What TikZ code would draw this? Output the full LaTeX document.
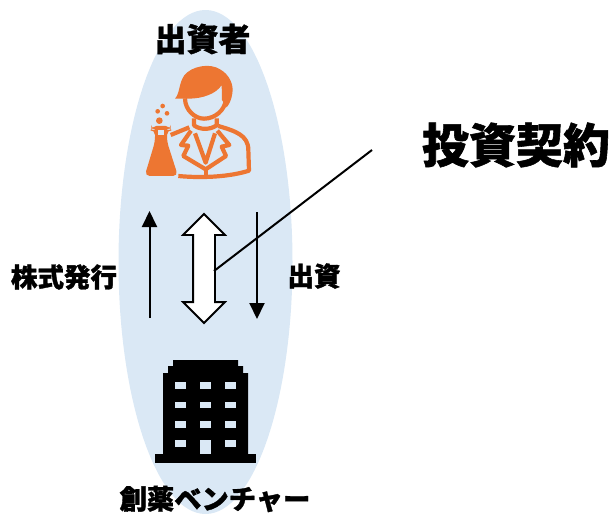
\documentclass[tikz,border=0pt]{standalone}
\usepackage{fontspec}
\setmainfont{Noto Sans CJK JP}[BoldFeatures={FakeBold=1.2}]
\usetikzlibrary{arrows.meta,shapes.geometric,shapes.arrows}
\definecolor{ovalblue}{HTML}{DAE8F5}
\definecolor{iconorange}{HTML}{ED7632}
\tikzset{
  oval/.style={ellipse,fill=ovalblue,inner sep=0pt,minimum width=174pt,minimum height=504pt},
  caption/.style={font=\bfseries\fontsize{#1}{#1}\selectfont,inner sep=0pt},
  flow/.style={-{Triangle[width=15pt,length=16pt]},line width=2pt},
  iconline/.style={draw=iconorange,line width=4.2pt,line join=round},
  window/.style={fill=ovalblue}
}

\begin{document}
\begin{tikzpicture}[x=1pt,y=-1pt]
  \useasboundingbox (0,0) rectangle (611,514);

  \node[oval] (oval) at (205.5,262) {};

  \node[caption=32] (investor) at (202.5,39) {出資者};
  \node[caption=47] (contract) at (516,145) {投資契約};
  \node[caption=26.5] (issue) at (64,277) {株式発行};
  \node[caption=26.5] (funding) at (314,276) {出資};
  \node[caption=27.3] (venture) at (215,499) {創薬ベンチャー};

  % scientist and flask
  \begin{scope}[shift={(120,50)},x=1/3*1pt,y=-1/3*1pt]
    \fill[iconorange] (165,146) .. controls (180,130) and (176,100) .. (193,76)
      .. controls (215,48) and (270,38) .. (300,58)
      .. controls (328,73) and (342,105) .. (337,130)
      .. controls (335,145) and (330,160) .. (320,172) -- (306,150) -- (305,105)
      .. controls (290,130) and (250,146) .. (205,146) -- cycle;
    \draw[iconline] (195,145) .. controls (195,180) and (225,206) .. (252,206)
      .. controls (285,206) and (315,180) .. (317,150);
    \draw[iconline] (222,205) -- (222,226) .. controls (240,240) and (270,240) .. (290,226) -- (290,205);
    \draw[iconline] (152,255) -- (208,232);
    \draw[iconline] (295,228) .. controls (345,243) and (385,255) .. (385,300) -- (387,362)
      .. controls (330,380) and (250,385) .. (175,378);
    \draw[iconline] (213,242) -- (183,285) -- (205,287) -- (190,318) -- (257,358)
      -- (318,318) -- (305,290) -- (328,285) -- (292,242);
    \draw[iconline] (225,250) -- (257,338) -- (285,250);
    \draw[iconline] (257,358) -- (257,380);
    \fill[iconorange,rounded corners=5pt] (94,228) -- (152,228) -- (152,240) -- (141,240) -- (141,275)
      -- (174,378) -- (74,378) -- (105,275) -- (105,240) -- (94,240) -- cycle;
    \fill[ovalblue] (114,240) rectangle (132,256);
    \fill[iconorange] (128,168) circle[radius=7] (113,184) circle[radius=7]
      (141,190) circle[radius=7] (118,212) circle[radius=10];
  \end{scope}

  % arrows in the middle
  \coordinate (issuefoot) at (149.5,318);
  \coordinate (issuetip) at (149.5,211);
  \coordinate (fundfoot) at (257,212);
  \coordinate (fundtip) at (257,319);
  \node[double arrow,draw,fill=white,line width=1.8pt,rotate=90,inner xsep=0pt,inner ysep=10pt,
        minimum height=109pt,double arrow head extend=10pt] (both) at (204,268.5) {};
  \coordinate (bothside) at (214,271);
  \coordinate (contractend) at (372,150);

  \draw[flow] (issuefoot) -- (issuetip);
  \draw[flow] (fundfoot) -- (fundtip);
  \draw[line width=2pt] (bothside) -- (contractend);

  % building
  \fill (155,454) rectangle (256,463);
  \fill (163,454) -- (163,373) -- (168,373) -- (168,366) -- (173,366) -- (173,360)
    -- (238,360) -- (238,366) -- (243,366) -- (243,373) -- (248,373) -- (248,454) -- cycle;
  \foreach \wx in {175,200,225}
    \foreach \wy in {382,401.5,421,440}
      \fill[window] (\wx,\wy) rectangle (\wx+11,\wy+6.5);
  \fill[window] (200,440) rectangle (211,454);
\end{tikzpicture}
\end{document}
